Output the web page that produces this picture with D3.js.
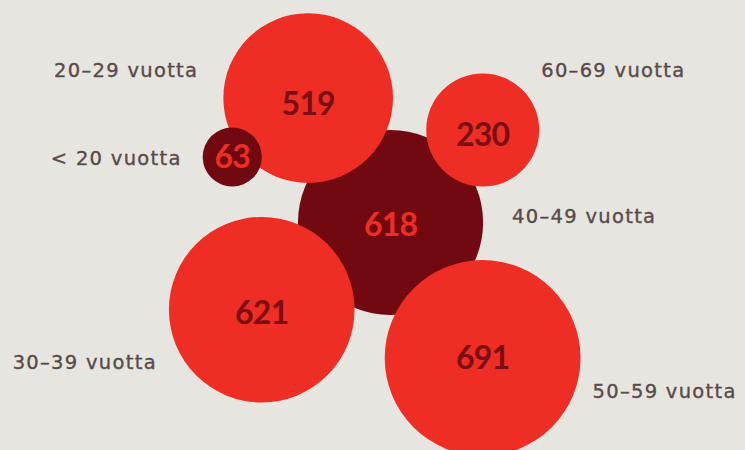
<!DOCTYPE html>
<html><head><meta charset="utf-8">
<script src="https://cdn.jsdelivr.net/npm/d3@7"></script>
<style>html,body{margin:0;padding:0;background:#E6E5E0;overflow:hidden}</style>
</head><body><svg id="c" width="745" height="450"></svg>
<script>
// data
const categories = ["< 20 vuotta","20–29 vuotta","30–39 vuotta","40–49 vuotta","50–59 vuotta","60–69 vuotta"];
const values = [63, 519, 621, 618, 691, 230];
const dark = [true, false, false, true, false, false];

// layout (polar placement relative to an anchor bubble)
const anchorIdx = [1, 3, 3, -1, 3, 3];
const angleDeg = [142.2, -123.5, 145.9, 0, 55.8, -45.1];
const distRatio = [0.84, 0.841, 0.839, 0, 0.86, 0.876];
// label placement: side of bubble and vertical offset from bubble centre
const labelSide = ["left","left","left","right","right","right"];
const labelGap = [21, 25, 12, 29, 12, 2];
const labelDy = [8, -21, 59.5, 1, 40, -53];
const numberDy = [11, 17, 14, 13.5, 11, 16];

const W = 745, H = 450;
const svg = d3.select("#c");
svg.append("rect").attr("width",W).attr("height",H).attr("fill","#E6E5E0");

const r = d3.scaleSqrt().domain([0, d3.max(values)]).range([0, 97.9]);
const x = d3.scaleLinear().domain([0,1]).range([0,W]);
const y = d3.scaleLinear().domain([0,1]).range([0,H]);

const nodes = categories.map((c,i)=>({cat:c, v:values[i], dark:dark[i], r:r(values[i]), i}));
nodes[3].x = x(0.5242); nodes[3].y = y(0.4944);
function place(i){
  const n = nodes[i];
  if (n.x !== undefined) return;
  const a = nodes[anchorIdx[i]]; place(anchorIdx[i]);
  const d = (a.r + n.r) * distRatio[i];
  const t = angleDeg[i]*Math.PI/180;
  n.x = a.x + d*Math.cos(t); n.y = a.y + d*Math.sin(t);
}
nodes.forEach((n,i)=>place(i));

const order = [3, 2, 4, 5, 1, 0];
const RED = "#EE2D24", DARK = "#710A10";
const g = svg.append("g");
const bub = g.selectAll("g.b").data(order.map(i=>nodes[i])).join("g").attr("class","b");
bub.append("circle").attr("cx",d=>d.x).attr("cy",d=>d.y).attr("r",d=>d.r)
  .attr("fill",d=>d.dark?DARK:RED);
bub.append("text").attr("x",d=>d.x).attr("y",d=>d.y + numberDy[d.i])
  .attr("text-anchor","middle")
  .attr("font-family","Lato, sans-serif").attr("font-weight",700)
  .attr("font-size",32).attr("letter-spacing",-0.8)
  .attr("fill",d=>d.dark?RED:"#7A0E14")
  .text(d=>d3.format("d")(d.v));

svg.selectAll("text.lab").data(nodes).join("text").attr("class","lab")
  .attr("x",d=> labelSide[d.i]==="left" ? d.x - d.r - labelGap[d.i] : d.x + d.r + labelGap[d.i])
  .attr("y",d=> d.y + labelDy[d.i])
  .attr("text-anchor",d=> labelSide[d.i]==="left"?"end":"start")
  .attr("font-family","'DejaVu Sans', sans-serif")
  .attr("font-size",19.5).attr("letter-spacing",1.3)
  .attr("fill","#574B4A").attr("stroke","#574B4A").attr("stroke-width",0.35)
  .text(d=>d.cat);
</script></body></html>
